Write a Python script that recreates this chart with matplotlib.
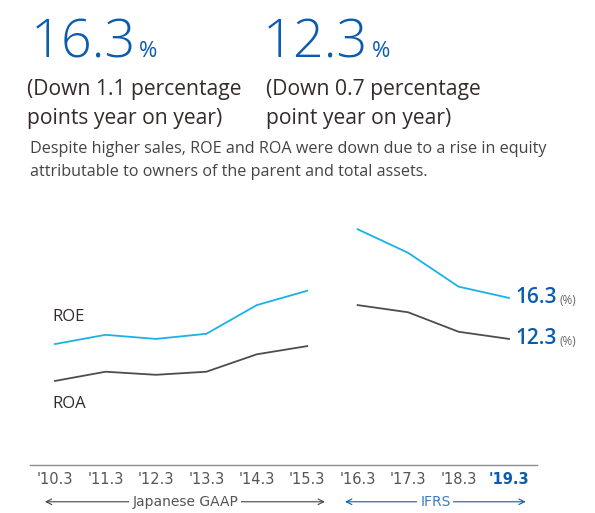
import matplotlib
matplotlib.use("Agg")
from matplotlib import pyplot as plt

W, H = 595, 513

years = ["'10.3", "'11.3", "'12.3", "'13.3", "'14.3", "'15.3", "'16.3", "'17.3", "'18.3", "'19.3"]
roe_jgaap = [11.8, 12.7, 12.3, 12.8, 15.6, 17.0]
roa_jgaap = [8.2, 9.1, 8.8, 9.1, 10.8, 11.6]
roe_ifrs = [23.0, 20.7, 17.4, 16.3]
roa_ifrs = [15.6, 14.9, 13.0, 12.3]

BLUE = "#0b5cad"
CYAN = "#1ab1e8"
DARK = "#4d4d4d"
TXT = "#332c2b"

plt.rcParams["font.family"] = ["Open Sans", "DejaVu Sans"]

fig = plt.figure(figsize=(W / 100, H / 100), dpi=100)

def px(x, y):
    # pixel position (from top left) -> figure fraction
    return x / W, 1 - y / H

# header numbers
fig.text(*px(31, 57), "16.3", fontsize=39, color=BLUE, va="baseline", fontweight="light")
fig.text(*px(139, 57), "%", fontsize=16, color=BLUE, va="baseline")
fig.text(*px(263, 57), "12.3", fontsize=39, color=BLUE, va="baseline", fontweight="light")
fig.text(*px(372, 57), "%", fontsize=16, color=BLUE, va="baseline")

fig.text(*px(27, 95), "(Down 1.1 percentage", fontsize=15.2, color=TXT, va="baseline")
fig.text(*px(27, 124), "points year on year)", fontsize=15.2, color=TXT, va="baseline")
fig.text(*px(266, 95), "(Down 0.7 percentage", fontsize=15.2, color=TXT, va="baseline")
fig.text(*px(266, 124), "point year on year)", fontsize=15.2, color=TXT, va="baseline")

fig.text(*px(30, 153), "Despite higher sales, ROE and ROA were down due to a rise in equity",
         fontsize=11.6, color="#444444", va="baseline")
fig.text(*px(30, 176), "attributable to owners of the parent and total assets.",
         fontsize=11.6, color="#444444", va="baseline")

# chart area
ax = fig.add_axes([30 / W, (H - 465) / H, 507 / W, 266.5 / H])
ax.set_xlim(-0.496, 9.555)
ax.set_ylim(0, 26)
for s in ["top", "right", "left"]:
    ax.spines[s].set_visible(False)
ax.spines["bottom"].set_color("#8c8c8c")
ax.spines["bottom"].set_linewidth(1.0)
ax.set_yticks([])

x_j = list(range(6))
x_i = list(range(6, 10))
ax.plot(x_j, roe_jgaap, color=CYAN, lw=1.3)
ax.plot(x_i, roe_ifrs, color=CYAN, lw=1.3)
ax.plot(x_j, roa_jgaap, color=DARK, lw=1.3)
ax.plot(x_i, roa_ifrs, color=DARK, lw=1.3)

ax.set_xticks(range(len(years)))
ax.set_xticklabels(years, fontsize=10.5, color="#555555",
                   family=["Liberation Sans Narrow", "DejaVu Sans"])
ax.tick_params(axis="x", length=0, pad=5)
last = ax.get_xticklabels()[-1]
last.set_color(BLUE)
last.set_fontweight("bold")

ax.text(-0.06, 14.45, "ROE", fontsize=12, color=TXT, va="center", ha="left")
ax.text(-0.06, 5.96, "ROA", fontsize=12, color=TXT, va="center", ha="left")

ax.text(9.12, roe_ifrs[-1], "16.3", fontsize=15, color=BLUE, fontweight="semibold",
        va="center", ha="left")
ax.text(10.0, roe_ifrs[-1] - 0.25, "(%)", fontsize=8.5, color="#666666", va="center", ha="left",
        clip_on=False)
ax.text(9.12, roa_ifrs[-1], "12.3", fontsize=15, color=BLUE, fontweight="semibold",
        va="center", ha="left")
ax.text(10.0, roa_ifrs[-1] - 0.25, "(%)", fontsize=8.5, color="#666666", va="center", ha="left",
        clip_on=False)

# accounting standard arrows
ay = -0.138
ax.annotate("", xy=(-0.2, ay), xytext=(5.35, ay), xycoords=("data", "axes fraction"),
            textcoords=("data", "axes fraction"),
            arrowprops=dict(arrowstyle="<->", color="#444444", lw=0.8, shrinkA=0, shrinkB=0))
ax.text(2.58, ay, "Japanese GAAP", transform=ax.get_xaxis_transform(), fontsize=10,
        color="#555555", ha="center", va="center", family=["Liberation Sans Narrow", "DejaVu Sans"],
        bbox=dict(facecolor="white", edgecolor="none", pad=2))
ax.annotate("", xy=(5.75, ay), xytext=(9.33, ay), xycoords=("data", "axes fraction"),
            textcoords=("data", "axes fraction"),
            arrowprops=dict(arrowstyle="<->", color=BLUE, lw=0.8, shrinkA=0, shrinkB=0))
ax.text(7.54, ay, "IFRS", transform=ax.get_xaxis_transform(), fontsize=10,
        color="#3a7cc4", ha="center", va="center", family=["Liberation Sans Narrow", "DejaVu Sans"],
        bbox=dict(facecolor="white", edgecolor="none", pad=2))

fig.savefig("out.png", dpi=100)
